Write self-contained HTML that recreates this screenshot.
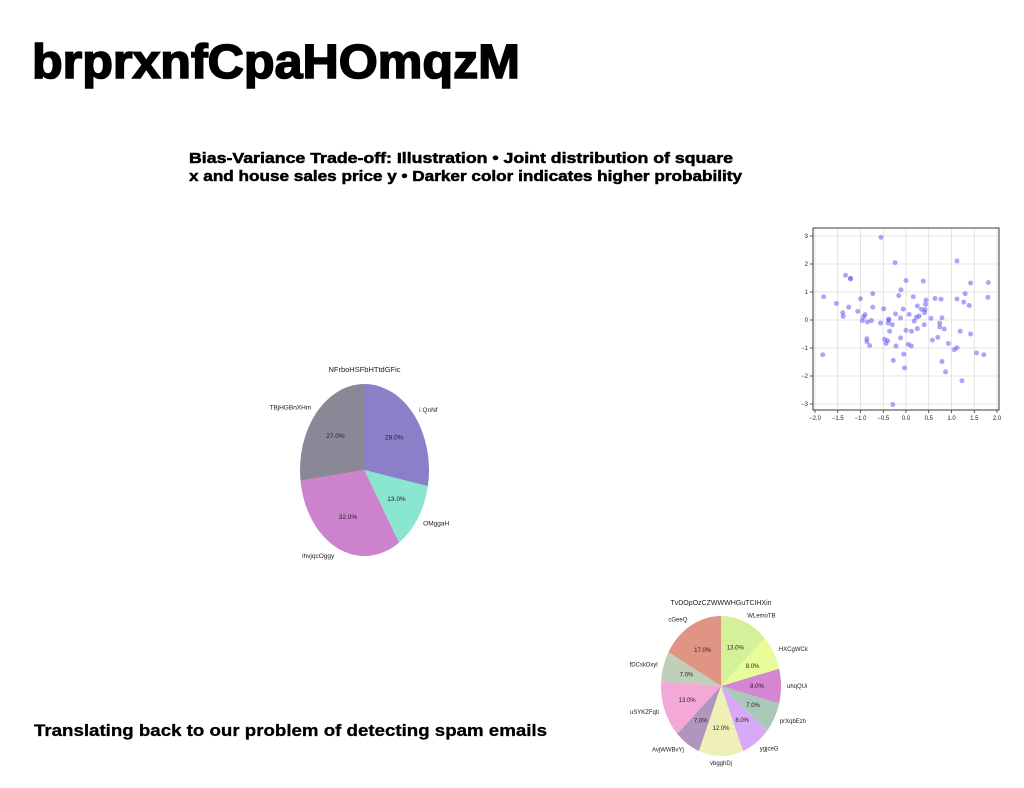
<!DOCTYPE html>
<html><head><meta charset="utf-8"><style>
body{margin:0;background:#fff;}
svg{display:block;font-family:"Liberation Sans","DejaVu Sans",sans-serif;}
</style></head><body>
<svg id="s" width="1024" height="788" viewBox="0 0 1024 788">
<text x="32" y="78" font-size="48" font-weight="bold" stroke="#000" stroke-width="1.6" textLength="488" lengthAdjust="spacingAndGlyphs">brprxnfCpaHOmqzM</text>
<text x="189" y="163" font-size="14.5" font-weight="bold" stroke="#000" stroke-width="0.5" textLength="544" lengthAdjust="spacingAndGlyphs">Bias-Variance Trade-off: Illustration • Joint distribution of square</text>
<text x="189" y="181" font-size="14.5" font-weight="bold" stroke="#000" stroke-width="0.5" textLength="553" lengthAdjust="spacingAndGlyphs">x and house sales price y • Darker color indicates higher probability</text>
<text x="34" y="736" font-size="16.5" font-weight="bold" stroke="#000" stroke-width="0.3" textLength="513" lengthAdjust="spacingAndGlyphs">Translating back to our problem of detecting spam emails</text>
<g id="pie1"></g>
<g id="pie2"></g>
<g id="scatter"></g>
</svg>
<script>
const pie1Labels=["TBjHGBnXHm","lhvjqcOggy","OMggaH","i QnNf"];
const pie1Values=[27,32,13,28];
const pie1Colors=["#8a8796","#cc82cc","#89e6cf","#8b80c8"];
const pie2Labels=["cGeeQ","fDCskDxyl","uSYKZFqti","AvjWWBvYj","vbgghDj","ygjceG","prXqbEzh","uhqQUi","HXCgWCk","WLemoTB"];
const pie2Values=[17,7,13,7,12,8,7,8,8,13];
const pie2Colors=["#e09483","#c0d0b8","#f4a8d8","#b095bc","#eef0b8","#d8aaf6","#a8c8b8","#d486d0","#e8fc98","#d4f098"];
const scatterX=[-1.83,-1.81,-1.53,-1.33,-1.22,-1.22,-1.26,-1.39,-1.38,-1.06,-1.0,-0.96,-0.93,-0.9,-0.85,-0.86,-0.86,-0.8,-0.76,-0.73,-0.73,-0.55,-0.56,-0.49,-0.47,-0.44,-0.4,-0.39,-0.38,-0.36,-0.3,-0.29,-0.28,-0.24,-0.23,-0.22,-0.16,-0.12,-0.11,-0.12,-0.06,-0.05,-0.03,0.0,0.0,0.05,0.07,0.12,0.12,0.16,0.18,0.23,0.25,0.25,0.29,0.34,0.38,0.4,0.41,0.42,0.43,0.44,0.55,0.58,0.64,0.7,0.74,0.74,0.77,0.79,0.79,0.84,0.87,0.93,1.06,1.12,1.12,1.12,1.19,1.23,1.27,1.3,1.39,1.42,1.42,1.55,1.71,1.81,1.8,-0.38];
const scatterY=[-1.24,0.83,0.59,1.6,1.47,1.49,0.46,0.26,0.13,0.31,0.76,-0.02,0.11,0.19,-0.07,-0.67,-0.77,-0.91,-0.02,0.94,0.46,2.95,-0.11,0.4,-0.69,-0.84,-0.74,-0.11,0.0,-0.4,-0.17,-3.02,-1.44,2.05,0.22,-0.93,0.87,0.07,1.08,-0.64,0.39,-1.22,-1.71,1.41,-0.37,-0.87,0.2,-0.4,-0.93,0.83,-0.04,0.1,0.5,-0.31,0.14,0.38,1.39,-0.17,0.26,0.37,0.56,0.71,0.06,-0.72,0.77,-0.62,-0.11,-0.25,0.74,0.08,-1.48,-0.32,-1.85,-0.84,-1.06,-0.99,2.11,0.75,-0.4,-2.17,0.64,0.94,0.52,1.32,-0.5,-1.18,-1.24,1.34,0.81,0.03];
const xTicks=[-2.0,-1.5,-1.0,-0.5,0.0,0.5,1.0,1.5,2.0];
const yTicks=[-3,-2,-1,0,1,2,3];
const NS="http://www.w3.org/2000/svg";
function mk(tag,attrs,parent){const e=document.createElementNS(NS,tag);for(const k in attrs)e.setAttribute(k,attrs[k]);parent.appendChild(e);return e;}
function drawPie(g,title,labels,values,colors,cx,cy,rx,ry,ty,fs){
  const t=mk('text',{x:cx,y:ty,'font-size':fs+1,'text-anchor':'middle',fill:'#222'},g);t.textContent=title;
  
  
  const total=values.reduce((a,b)=>a+b,0);
  let a=Math.PI/2;
  values.forEach((v,i)=>{
    const a2=a+v/total*2*Math.PI;
    const x1=cx+rx*Math.cos(a),y1=cy-ry*Math.sin(a),x2=cx+rx*Math.cos(a2),y2=cy-ry*Math.sin(a2);
    const large=(a2-a)>Math.PI?1:0;
    const p=mk('path',{d:`M${cx},${cy}L${x1},${y1}A${rx},${ry} 0 ${large} 0 ${x2},${y2}Z`,fill:colors[i]},g);
    
    
    const m=(a+a2)/2,c=Math.cos(m),s=Math.sin(m);
    const pt=mk('text',{x:cx+0.6*rx*c,y:cy-0.6*ry*s+fs/3,'font-size':fs,'text-anchor':'middle',fill:'#222'},g);
    pt.textContent=v.toFixed(1)+'%';
    
    
    const lt=mk('text',{x:cx+1.1*rx*c,y:cy-1.1*ry*s+fs/3,'font-size':fs,'text-anchor':c<-0.01?'end':(c>0.01?'start':'middle'),fill:'#222'},g);
    lt.textContent=labels[i];
    
    
    a=a2;
  });
}
drawPie(document.getElementById('pie1'),"NFrboHSFbHTtdGFic",pie1Labels,pie1Values,pie1Colors,364.5,470,64.5,86,372,6.5);
drawPie(document.getElementById('pie2'),"TvDOpOzCZWWWHGuTCIHXin",pie2Labels,pie2Values,pie2Colors,721,686,60,70,605,6);
(function(){
  const g=document.getElementById('scatter');
  const L=813,R=999,T=228,B=410;
  const xs=v=>815+(v+2)/4*182, ys=v=>320-v*28;
  const bg=mk('rect',{x:L,y:T,width:R-L,height:B-T,fill:'#fff',stroke:'#333','stroke-width':0.8},g);
  
  
  xTicks.forEach(v=>{
    const x=xs(v);
    mk('line',{x1:x,x2:x,y1:T,y2:B,stroke:'#ddd','stroke-width':0.8},g);
    mk('line',{x1:x,x2:x,y1:B,y2:B+3,stroke:'#333','stroke-width':0.8},g);
    const t=mk('text',{x:x,y:B+10,'font-size':6,'text-anchor':'middle',fill:'#222'},g);
    t.textContent=v.toFixed(1).replace('-','−');
    
    
  });
  yTicks.forEach(v=>{
    const y=ys(v);
    mk('line',{x1:L,x2:R,y1:y,y2:y,stroke:'#ddd','stroke-width':0.8},g);
    mk('line',{x1:L-3,x2:L,y1:y,y2:y,stroke:'#333','stroke-width':0.8},g);
    const t=mk('text',{x:L-5,y:y+2,'font-size':6,'text-anchor':'end',fill:'#222'},g);
    t.textContent=String(v).replace('-','−');
    
    
  });
  scatterX.forEach((v,i)=>{
    const c=mk('circle',{cx:xs(v),cy:ys(scatterY[i]),r:2.5,fill:'#5a4ef5','fill-opacity':0.5},g);
    
    
  });
  mk('rect',{x:L,y:T,width:R-L,height:B-T,fill:'none',stroke:'#333','stroke-width':0.8},g);
})();
</script>
</body></html>
